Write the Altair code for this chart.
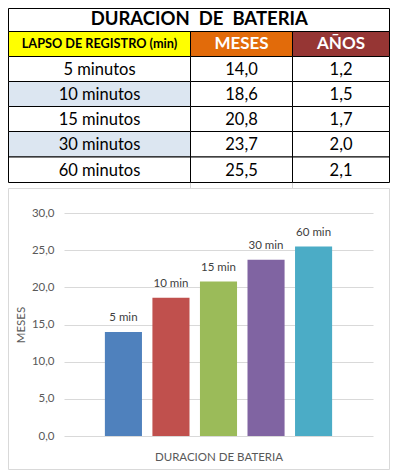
import altair as alt
import pandas as pd

# ---------------- data ----------------
LAPSO = ["5 minutos", "10 minutos", "15 minutos", "30 minutos", "60 minutos"]
ETIQUETAS = ["5 min", "10 min", "15 min", "30 min", "60 min"]
MESES = [14.0, 18.6, 20.8, 23.7, 25.5]
ANOS = [1.2, 1.5, 1.7, 2.0, 2.1]
TITULO = "DURACION\u00a0 DE\u00a0 BATERIA"
HEADERS = ["LAPSO DE REGISTRO (min)", "MESES", "AÑOS"]
Y_TICKS = [0, 5, 10, 15, 20, 25, 30]
X_TITLE = "DURACION DE BATERIA"
Y_TITLE = "MESES"

# ---------------- layout / style (page pixels) ----------------
COL_EDGES = [8.5, 190.5, 292.5, 389.5]
ROW_EDGES = [8.5, 31.5, 56.5, 81.5, 106.5, 131.5, 157.0, 182.5]
TITLE_CY = 18.5
HEADER_FILLS = ["#FFFF00", "#E26B0A", "#963634"]
HEADER_TEXT = ["black", "white", "white"]
HEADER_SIZE = [12.7, 17, 17]
TITLE_SIZE = 18.5
DATA_SIZE = 16.5
ALT_FILL = "#DCE6F1"
BAR_COLORS = ["#4F81BD", "#C0504D", "#9BBB59", "#8064A2", "#4BACC6"]
FONT = "Lato"
PLOT_X0, PLOT_Y0, PLOT_W, PLOT_H = 64, 213, 309, 223
SVG_W, SVG_H = 382, 462          # svg kept inside the window width (8px margins)
PAGE_W, PAGE_H = 398, 473
SHEET_GRID = "#D4D4D4"
CHART_BORDER = [8.5, 188.5, 389.5, 469.5]


def fmt(v):
    return f"{v:.1f}".replace(".", ",")


# ---------------- table cells ----------------
cells = []
texts_bold = []
texts_reg = []
cells.append(dict(x0=COL_EDGES[0], x1=COL_EDGES[3], y0=ROW_EDGES[0], y1=ROW_EDGES[1], fill="white"))
texts_bold.append(dict(x=(COL_EDGES[0] + 392) / 2 - 1, y=TITLE_CY, t=TITULO, fs=TITLE_SIZE, tc="black"))
for c, h in enumerate(HEADERS):
    cells.append(dict(x0=COL_EDGES[c], x1=COL_EDGES[c + 1], y0=ROW_EDGES[1], y1=ROW_EDGES[2], fill=HEADER_FILLS[c]))
    texts_bold.append(dict(x=(COL_EDGES[c] + COL_EDGES[c + 1]) / 2, y=(ROW_EDGES[1] + ROW_EDGES[2]) / 2,
                           t=h, fs=HEADER_SIZE[c], tc=HEADER_TEXT[c]))
for r in range(len(LAPSO)):
    y0, y1 = ROW_EDGES[2 + r], ROW_EDGES[3 + r]
    row_vals = [LAPSO[r], fmt(MESES[r]), fmt(ANOS[r])]
    for c in range(3):
        fill = ALT_FILL if (c == 0 and r % 2 == 1) else "white"
        cells.append(dict(x0=COL_EDGES[c], x1=COL_EDGES[c + 1], y0=y0, y1=y1, fill=fill))
        texts_reg.append(dict(x=(COL_EDGES[c] + COL_EDGES[c + 1]) / 2, y=(y0 + y1) / 2 + 1,
                              t=row_vals[c], fs=DATA_SIZE, tc="black"))

cells_df = pd.DataFrame(cells)
tb_df = pd.DataFrame(texts_bold)
tr_df = pd.DataFrame(texts_reg)

seg = []
for x in [190.5, 292.5]:
    seg.append(dict(x0=x, x1=x, y0=182.5, y1=188.5))
seg_df = pd.DataFrame(seg)
border_df = pd.DataFrame([dict(x0=CHART_BORDER[0], y0=CHART_BORDER[1], x1=CHART_BORDER[2], y1=CHART_BORDER[3])])

px = alt.Scale(domain=[0, PAGE_W], range=[-PLOT_X0, PAGE_W - PLOT_X0], nice=False, zero=False)
py = alt.Scale(domain=[0, PAGE_H], range=[-PLOT_Y0, PAGE_H - PLOT_Y0], nice=False, zero=False)


def XP(f):
    return alt.X(f, type="quantitative", scale=px, axis=None)


def YP(f):
    return alt.Y(f, type="quantitative", scale=py, axis=None)


grid_layer = alt.Chart(seg_df).mark_rule(color=SHEET_GRID, strokeWidth=1).encode(
    x=XP("x0"), x2="x1", y=YP("y0"), y2="y1")
border_layer = alt.Chart(border_df).mark_rect(fillOpacity=0, stroke="#D9D9D9", strokeWidth=1).encode(
    x=XP("x0"), x2="x1", y=YP("y0"), y2="y1")
cell_layer = alt.Chart(cells_df).mark_rect(stroke="black", strokeWidth=1).encode(
    x=XP("x0"), x2="x1", y=YP("y0"), y2="y1", fill=alt.Fill("fill:N", scale=None))
tb_layer = alt.Chart(tb_df).mark_text(font=FONT, fontWeight="bold", baseline="middle", align="center").encode(
    x=XP("x"), y=YP("y"), text="t:N", size=alt.Size("fs:Q", scale=None), color=alt.Color("tc:N", scale=None))
tr_layer = alt.Chart(tr_df).mark_text(font=FONT, baseline="middle", align="center").encode(
    x=XP("x"), y=YP("y"), text="t:N", size=alt.Size("fs:Q", scale=None), color=alt.Color("tc:N", scale=None))

table = alt.layer(grid_layer, border_layer, cell_layer, tb_layer, tr_layer)

# ---------------- bar chart ----------------
bars_df = pd.DataFrame({"serie": ETIQUETAS, "meses": MESES})
x_enc = alt.X("serie:N", sort=ETIQUETAS,
              scale=alt.Scale(domain=ETIQUETAS, paddingInner=0.22, paddingOuter=0.86),
              axis=alt.Axis(labels=False, ticks=False, domain=False, grid=False, title=X_TITLE,
                            titleFont=FONT, titleFontSize=11.5, titleFontWeight="normal",
                            titleColor="#595959", titleY=21, titleBaseline="middle"))
y_enc = alt.Y("meses:Q", scale=alt.Scale(domain=[0, 30], nice=False),
              axis=alt.Axis(values=Y_TICKS, labelExpr="replace(format(datum.value, '.1f'), '.', ',')",
                            labelOverlap=False,
                            ticks=False, domain=False, grid=True, gridColor="#D9D9D9",
                            labelFont=FONT, labelFontSize=11.5, labelColor="#595959", labelPadding=10,
                            title=Y_TITLE, titleFont=FONT, titleFontSize=11.5, titleFontWeight="normal",
                            titleColor="#595959", titleX=-43, titleY=PLOT_H / 2, titleAngle=270,
                            titleBaseline="middle", titleAlign="center"))
bars = alt.Chart(bars_df).mark_bar().encode(
    x=x_enc, y=y_enc,
    color=alt.Color("serie:N", sort=ETIQUETAS, scale=alt.Scale(domain=ETIQUETAS, range=BAR_COLORS), legend=None))
labels = alt.Chart(bars_df).mark_text(dy=-13.5, baseline="middle", font=FONT, fontSize=11.5, color="#404040").encode(
    x=x_enc, y=y_enc, text="serie:N")
barchart = alt.layer(bars, labels)

chart = alt.layer(table, barchart).resolve_scale(x="independent", y="independent").properties(
    width=PLOT_W, height=PLOT_H,
    padding={"left": PLOT_X0 - 8, "top": PLOT_Y0 - 8,
             "right": SVG_W - (PLOT_X0 - 8) - PLOT_W, "bottom": SVG_H - (PLOT_Y0 - 8) - PLOT_H},
    autosize=alt.AutoSizeParams(type="none"),
).configure_view(stroke=None)

chart.save("out.html", embed_options={"renderer": "svg", "actions": False})
